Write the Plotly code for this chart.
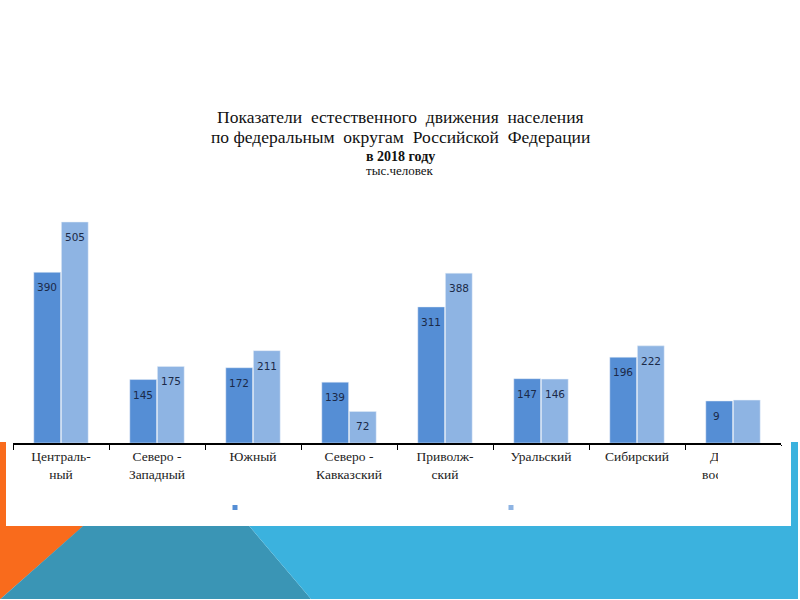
import plotly.graph_objects as go

categories = ["Централь-<br>ный", "Северо -<br>Западный", "Южный", "Северо -<br>Кавказский",
              "Приволж-<br>ский", "Уральский", "Сибирский", "Дальне-<br>восточный"]
series_a = [390, 145, 172, 139, 311, 147, 196, 96]
series_b = [505, 175, 211, 72, 388, 146, 222, 98]
labels_a = ["390", "145", "172", "139", "311", "147", "196", "9\u2007"]
labels_b = ["505", "175", "211", "72", "388", "146", "222", ""]

title_lines = [
    ("Показатели \u00a0естественного \u00a0движения \u00a0населения", 17.5, False),
    ("по федеральным \u00a0округам \u00a0Российской \u00a0Федерации", 17.5, False),
    ("в 2018 году", 14, True),
    ("тыс.человек", 13, False),
]

W, H = 800, 600
def px(x):
    return x / W
def py(y):
    return 1 - y / H

DARK = "#558ed5"
LIGHT = "#8eb4e3"
LABEL_FONT = dict(family="DejaVu Sans", size=10.5, color="#1b2a48")

fig = go.Figure()
fig.add_trace(go.Bar(x=categories, y=series_a, marker_color=DARK, showlegend=False,
                     hoverinfo="skip"))
fig.add_trace(go.Bar(x=categories, y=series_b, marker_color=LIGHT, showlegend=False,
                     hoverinfo="skip"))

def poly(pts):
    return "M " + " L ".join(f"{px(x):.5f},{py(y):.5f}" for x, y in pts) + " Z"

shapes = [
    dict(type="path", path=poly([(0, 442), (179, 442), (0.5, 599), (0, 599)]),
         xref="paper", yref="paper", fillcolor="#f96b1c", line_width=0, layer="below"),
    dict(type="path", path=poly([(178, 442), (0.5, 599), (311, 599)]),
         xref="paper", yref="paper", fillcolor="#3a95b5", line_width=0, layer="below"),
    dict(type="path", path=poly([(178, 442), (798, 442), (798, 599), (311, 599)]),
         xref="paper", yref="paper", fillcolor="#3bb2de", line_width=0, layer="below"),
    dict(type="rect", x0=px(6), x1=px(791), y0=py(526), y1=py(420),
         xref="paper", yref="paper", fillcolor="white", line_width=0, layer="below"),
    # legend keys (no text)
    dict(type="rect", x0=px(232.5), x1=px(237.5), y0=py(510), y1=py(505),
         xref="paper", yref="paper", fillcolor=DARK, line_width=0, layer="above"),
    dict(type="rect", x0=px(508.5), x1=px(513.5), y0=py(510), y1=py(505),
         xref="paper", yref="paper", fillcolor=LIGHT, line_width=0, layer="above"),
    # clipping of the last category label as in the reference
    dict(type="rect", x0=px(718), x1=px(786), y0=py(490), y1=py(446),
         xref="paper", yref="paper", fillcolor="white", line_width=0, layer="above"),
]

title_y = [117, 137, 156, 170]
annotations = []
for (txt, size, bold), yy in zip(title_lines, title_y):
    annotations.append(dict(
        text=f"<b>{txt}</b>" if bold else txt, x=0.5, y=py(yy), xref="paper", yref="paper",
        xanchor="center", yanchor="middle", showarrow=False,
        font=dict(family="Liberation Serif", size=size, color="#111111")))

# value labels inside the top of each bar
for vals, labs, shift in ((series_a, labels_a, -13.8), (series_b, labels_b, 13.8)):
    for c, v, t in zip(categories, vals, labs):
        if t:
            annotations.append(dict(x=c, y=v, xref="x", yref="y", text=t, showarrow=False,
                                    xshift=shift, yshift=-15, xanchor="center",
                                    yanchor="middle", font=LABEL_FONT))

fig.update_layout(
    width=W, height=H,
    margin=dict(l=0, r=0, t=0, b=0),
    paper_bgcolor="white", plot_bgcolor="rgba(0,0,0,0)",
    barmode="group", bargap=0.425, bargroupgap=0.03,
    shapes=shapes, annotations=annotations,
    showlegend=False, hovermode=False,
    xaxis=dict(domain=[px(13), px(781)], showgrid=False, zeroline=False,
               showline=True, linecolor="black", linewidth=1.5,
               ticks="outside", tickson="boundaries", ticklen=5, tickcolor="black",
               tickwidth=1, tickangle=0,
               tickfont=dict(family="Liberation Serif", size=13.5, color="#222222"),
               automargin=False, fixedrange=True),
    yaxis=dict(domain=[py(443), py(206.7)], range=[0, 540], visible=False,
               showgrid=False, zeroline=False, automargin=False, fixedrange=True),
)

fig.write_html("out.html", config={"displayModeBar": False},
               post_script="document.body.style.margin='0px';")
